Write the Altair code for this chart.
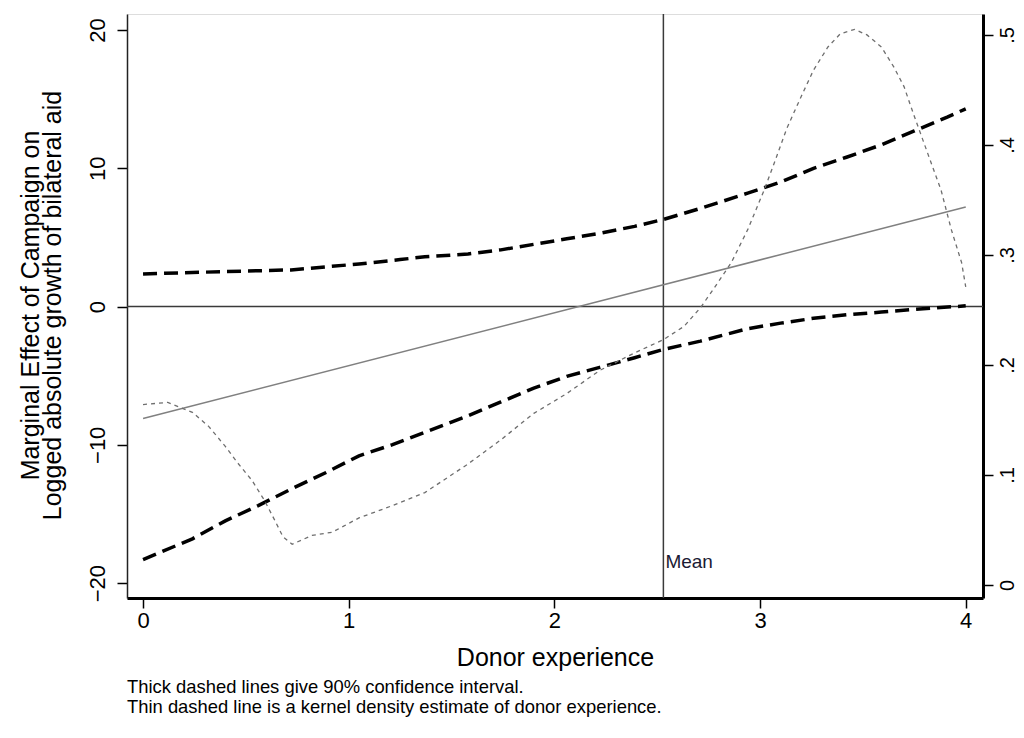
import altair as alt
import pandas as pd

FONT = "Liberation Sans"

x_ticks = [0, 1, 2, 3, 4]
left_ticks = [-20, -10, 0, 10, 20]
right_ticks = [0, 0.1, 0.2, 0.3, 0.4, 0.5]

# marginal effect (straight line)
me_x = [0.0, 4.0]
me_y = [-8.1, 7.2]

# upper 90% CI
hi_x = [0.0, 0.40, 0.72, 1.05, 1.25, 1.37, 1.58, 1.74, 1.90, 2.06, 2.22, 2.39, 2.53,
        2.71, 2.94, 3.10, 3.26, 3.42, 3.59, 3.75, 3.91, 4.0]
hi_y = [2.36, 2.53, 2.65, 3.08, 3.4, 3.6, 3.8, 4.1, 4.5, 4.9, 5.3, 5.8, 6.3,
        7.1, 8.2, 9.0, 10.0, 10.8, 11.7, 12.7, 13.7, 14.3]

# lower 90% CI
lo_x = [0.0, 0.24, 0.40, 0.56, 0.72, 0.89, 1.05, 1.21, 1.37, 1.58, 1.74, 1.90, 2.06,
        2.22, 2.39, 2.53, 2.71, 2.94, 3.10, 3.26, 3.42, 3.59, 3.75, 4.0]
lo_y = [-18.3, -16.8, -15.5, -14.4, -13.2, -12.0, -10.8, -10.0, -9.1, -7.9, -6.9, -5.9, -5.05,
        -4.4, -3.7, -3.1, -2.5, -1.6, -1.2, -0.85, -0.6, -0.4, -0.2, 0.05]

# kernel density of donor experience (right axis)
kd_x = [0.0, 0.12, 0.24, 0.32, 0.40, 0.46, 0.53, 0.59, 0.64, 0.68, 0.725, 0.82, 0.92,
        1.05, 1.21, 1.37, 1.58, 1.74, 1.90, 2.06, 2.22, 2.39, 2.53, 2.63, 2.71, 2.77,
        2.86, 2.94, 3.02, 3.07, 3.13, 3.20, 3.26, 3.33, 3.39, 3.46, 3.52, 3.59, 3.65,
        3.70, 3.75, 3.81, 3.88, 3.93, 3.98, 4.0]
kd_y = [0.164, 0.166, 0.157, 0.144, 0.126, 0.111, 0.095, 0.077, 0.059, 0.044, 0.037, 0.045, 0.048,
        0.061, 0.072, 0.084, 0.110, 0.132, 0.156, 0.174, 0.195, 0.211, 0.223, 0.235, 0.252, 0.268,
        0.293, 0.323, 0.359, 0.384, 0.415, 0.444, 0.468, 0.489, 0.501, 0.505, 0.500, 0.489, 0.471,
        0.453, 0.426, 0.395, 0.359, 0.323, 0.293, 0.271]

mean_x = 2.53
mean_label_y = -18.46

y_title = ["Marginal Effect of Campaign on", "Logged absolute growth of bilateral aid"]
x_title = "Donor experience"
notes = ["Thick dashed lines give 90% confidence interval.",
         "Thin dashed line is a kernel density estimate of donor experience."]

X_DOM = [-0.078, 4.084]
Y_DOM = [-21.08, 21.16]
R_DOM = [-0.0118, 0.519]

xscale = alt.Scale(domain=X_DOM, nice=False, zero=False)
yscale = alt.Scale(domain=Y_DOM, nice=False, zero=False)
rscale = alt.Scale(domain=R_DOM, nice=False, zero=False)

xaxis = alt.Axis(values=x_ticks, title=x_title, labelFontSize=22, titleFontSize=25,
                 tickSize=10, tickWidth=1.5, tickColor="black", labelPadding=2,
                 titlePadding=14, grid=False, domainColor="black", domainWidth=3,
                 labelColor="black", titleColor="black", titleFontWeight="normal",
                 labelFont=FONT, titleFont=FONT)

yaxis = alt.Axis(values=left_ticks, orient="left", title=y_title, labelAngle=270,
                 labelAlign="center", labelBaseline="bottom", labelFontSize=22,
                 tickSize=10, tickWidth=1.5, tickColor="black", labelPadding=8,
                 grid=False, domainColor="#222222", domainWidth=1.5,
                 labelColor="black", titleColor="black", titleFontWeight="normal",
                 titleFontSize=25, titleAngle=270, titleAlign="center",
                 titleBaseline="middle", titleX=-97, titleY=291, titleLineHeight=22,
                 labelFont=FONT, titleFont=FONT)

raxis = alt.Axis(values=right_ticks, orient="right", title=None, labelAngle=270,
                 labelAlign="center", labelBaseline="top", labelFontSize=20,
                 labelExpr="datum.value == 0 ? '0' : replace(format(datum.value, '.1f'), '0.', '.')",
                 tickSize=10, tickWidth=1.5, tickColor="black", labelPadding=4,
                 grid=False, domainColor="black", domainWidth=3,
                 labelColor="black", labelFont=FONT)

X = alt.X("x:Q", scale=xscale, axis=xaxis)
Y = alt.Y("y:Q", scale=yscale, axis=yaxis)

me_df = pd.DataFrame({"x": me_x, "y": me_y})
hi_df = pd.DataFrame({"x": hi_x, "y": hi_y})
lo_df = pd.DataFrame({"x": lo_x, "y": lo_y})
kd_df = pd.DataFrame({"x": kd_x, "d": kd_y})
zero_df = pd.DataFrame({"y": [0]})
mean_df = pd.DataFrame({"x": [mean_x]})
mean_txt_df = pd.DataFrame({"x": [mean_x], "y": [mean_label_y], "t": ["Mean"]})

zero_rule = alt.Chart(zero_df).mark_rule(color="#3a3a3a", strokeWidth=1.5).encode(y=Y)
mean_rule = alt.Chart(mean_df).mark_rule(color="#3a3a3a", strokeWidth=1.5).encode(x=X)
me_line = alt.Chart(me_df).mark_line(color="#808080", strokeWidth=1.5).encode(x=X, y=Y)
hi_line = alt.Chart(hi_df).mark_line(color="black", strokeWidth=3.5, strokeDash=[14, 7]).encode(x=X, y=Y)
lo_line = alt.Chart(lo_df).mark_line(color="black", strokeWidth=3.5, strokeDash=[14, 7]).encode(x=X, y=Y)
mean_txt = alt.Chart(mean_txt_df).mark_text(align="left", baseline="middle", dx=2,
                                            fontSize=19, font=FONT, color="#1a1a33").encode(
    x=X, y=Y, text="t:N")

left = alt.layer(zero_rule, mean_rule, me_line, hi_line, lo_line, mean_txt)

kd_line = alt.Chart(kd_df).mark_line(color="#6e6e6e", strokeWidth=1.3, strokeDash=[4, 4]).encode(
    x=X, y=alt.Y("d:Q", scale=rscale, axis=raxis))

chart = alt.layer(left, kd_line).resolve_scale(y="independent").properties(
    width=856, height=584,
    autosize=alt.AutoSizeParams(type="none"),
    padding={"left": 119, "top": 6, "right": 33, "bottom": 128},
    title=alt.TitleParams(text=notes, orient="bottom", anchor="start", frame="group",
                          fontSize=18.4, fontWeight="normal", lineHeight=20, offset=8,
                          color="black", font=FONT),
).configure_view(stroke="#333333", strokeWidth=1.5).configure(background="white")

chart.save("out.html", embed_options={"renderer": "svg", "actions": False})
